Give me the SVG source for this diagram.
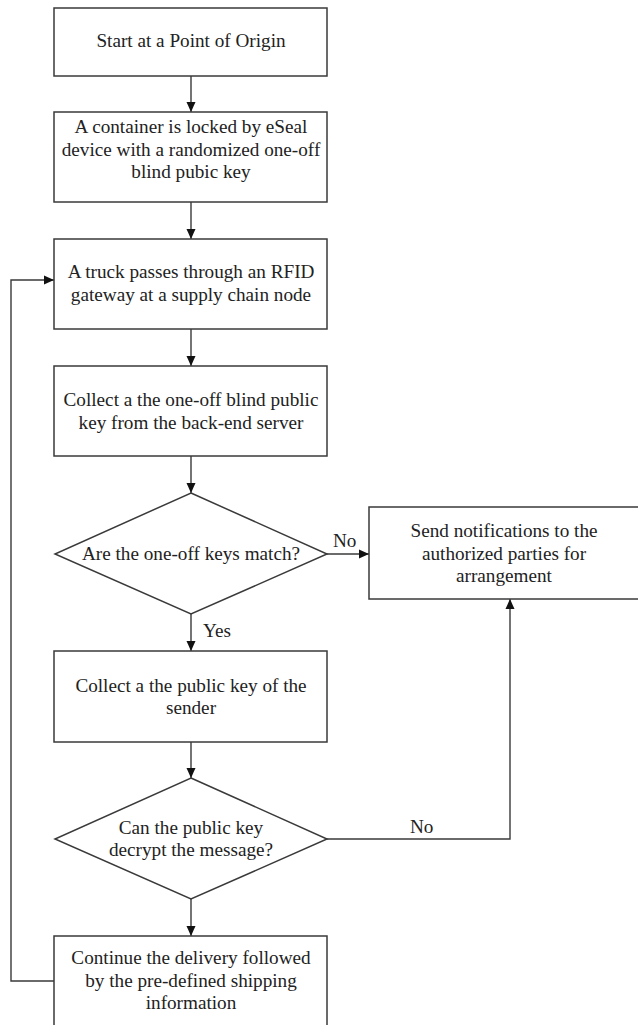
<svg xmlns="http://www.w3.org/2000/svg" width="638" height="1025" viewBox="0 0 638 1025">
<style>
  .box { fill: #ffffff; stroke: #3a3a3a; stroke-width: 1.5; }
  .lbl { font-family: "Liberation Serif", "Times New Roman", serif; font-size: 19.2px; fill: #222222; text-anchor: middle; }
  .tag { font-family: "Liberation Serif", "Times New Roman", serif; font-size: 19.2px; fill: #222222; }
  .conn { fill: none; stroke: #3a3a3a; stroke-width: 1.4; }
</style>
<defs>
  <marker id="arr" viewBox="0 0 10 10" refX="10" refY="5" markerWidth="10" markerHeight="10" markerUnits="userSpaceOnUse" orient="auto">
    <path d="M0,0.5 L10,5 L0,9.5 Z" fill="#111111"/>
  </marker>
</defs>
<rect width="638" height="1025" fill="#ffffff"/>

<g id="connectors">
  <line class="conn" x1="191" y1="76" x2="191" y2="112" marker-end="url(#arr)"/>
  <line class="conn" x1="191" y1="202" x2="191" y2="239" marker-end="url(#arr)"/>
  <line class="conn" x1="191" y1="329" x2="191" y2="366" marker-end="url(#arr)"/>
  <line class="conn" x1="191" y1="456" x2="191" y2="493" marker-end="url(#arr)"/>
  <line class="conn" x1="327" y1="554" x2="369" y2="554" marker-end="url(#arr)"/>
  <text class="tag" x="333" y="547">No</text>
  <line class="conn" x1="191" y1="614" x2="191" y2="651" marker-end="url(#arr)"/>
  <text class="tag" x="203" y="637">Yes</text>
  <line class="conn" x1="191" y1="742" x2="191" y2="778" marker-end="url(#arr)"/>
  <polyline class="conn" points="327,839 510,839 510,599" marker-end="url(#arr)"/>
  <text class="tag" x="410" y="833">No</text>
  <line class="conn" x1="191" y1="899" x2="191" y2="936" marker-end="url(#arr)"/>
  <polyline class="conn" points="54,981 11,981 11,280 54,280" marker-end="url(#arr)"/>
</g>

<g id="n1">
  <rect class="box" x="54" y="8" width="273" height="68"/>
  <text class="lbl" x="191" y="47">Start at a Point of Origin</text>
</g>
<g id="n2">
  <rect class="box" x="54" y="112" width="273" height="90"/>
  <text class="lbl" x="191" y="133">A container is locked by eSeal</text>
  <text class="lbl" x="191" y="155.5">device with a randomized one-off</text>
  <text class="lbl" x="191" y="178">blind pubic key</text>
</g>
<g id="n3">
  <rect class="box" x="54" y="239" width="273" height="90"/>
  <text class="lbl" x="191" y="278">A truck passes through an RFID</text>
  <text class="lbl" x="191" y="301">gateway at a supply chain node</text>
</g>
<g id="n4">
  <rect class="box" x="54" y="366" width="273" height="90"/>
  <text class="lbl" x="191" y="406">Collect a the one-off blind public</text>
  <text class="lbl" x="191" y="429">key from the back-end server</text>
</g>
<g id="d1">
  <polygon class="box" points="191,493 327,554 191,614 55,554"/>
  <text class="lbl" x="191" y="560">Are the one-off keys match?</text>
</g>
<g id="n5">
  <rect class="box" x="369" y="507" width="272" height="92"/>
  <text class="lbl" x="504" y="537">Send notifications to the</text>
  <text class="lbl" x="504" y="559.5">authorized parties for</text>
  <text class="lbl" x="504" y="582">arrangement</text>
</g>
<g id="n6">
  <rect class="box" x="54" y="651" width="273" height="91"/>
  <text class="lbl" x="191" y="692">Collect a the public key of the</text>
  <text class="lbl" x="191" y="714">sender</text>
</g>
<g id="d2">
  <polygon class="box" points="191,778 327,839 191,899 55,839"/>
  <text class="lbl" x="191" y="834">Can the public key</text>
  <text class="lbl" x="191" y="856">decrypt the message?</text>
</g>
<g id="n7">
  <rect class="box" x="54" y="936" width="273" height="90"/>
  <text class="lbl" x="191" y="964">Continue the delivery followed</text>
  <text class="lbl" x="191" y="986.5">by the pre-defined shipping</text>
  <text class="lbl" x="191" y="1009">information</text>
</g>
</svg>
